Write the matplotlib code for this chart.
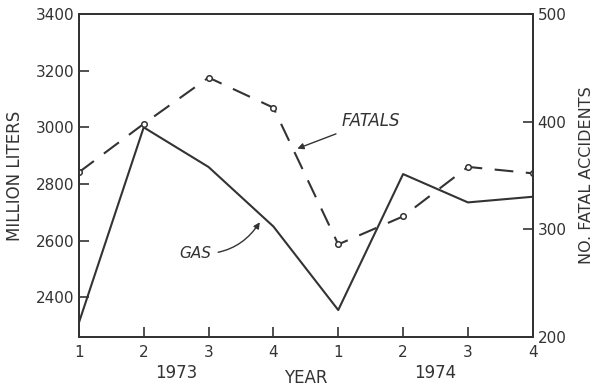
import matplotlib
matplotlib.use('Agg')
import matplotlib.pyplot as plt

# Quarterly gasoline sales and fatal accidents, 1973-1974
quarters = ['1', '2', '3', '4', '1', '2', '3', '4']
gas = [2310, 3000, 2860, 2650, 2355, 2835, 2735, 2755]
fatals = [353, 398, 441, 413, 286, 312, 358, 352]

plt.rcParams['font.family'] = 'DejaVu Sans'
ink = '#333333'

fig = plt.figure(figsize=(6.02, 3.9), dpi=100)
ax = fig.add_axes([0.131, 0.136, 0.754, 0.828])
x = list(range(len(quarters)))

ax.plot(x, gas, color=ink, linewidth=1.5)
ax.set_xlim(0, 7)
ax.set_ylim(2260, 3400)
ax.set_yticks([2400, 2600, 2800, 3000, 3200, 3400])
ax.set_xticks(x)
ax.set_xticklabels(quarters)
ax.set_ylabel('MILLION LITERS', fontsize=12, color=ink, labelpad=8)

ax2 = ax.twinx()
ax2.plot(x, fatals, color=ink, linewidth=1.5, dashes=(9, 6),
         marker='o', markersize=4, markerfacecolor='white',
         markeredgecolor=ink, markeredgewidth=1.1)
ax2.set_ylim(200, 500)
ax2.set_yticks([200, 300, 400, 500])
ax2.set_ylabel('NO. FATAL ACCIDENTS', fontsize=11.5, color=ink, labelpad=9)

for a in (ax, ax2):
    a.tick_params(direction='in', length=7, width=1.2, colors=ink,
                  labelsize=11)
    for s in a.spines.values():
        s.set_color(ink)
        s.set_linewidth(1.4)
ax.tick_params(axis='x', pad=6)

# year captions under the quarter ticks
ax.text(1.5, -0.111, '1973', transform=ax.get_xaxis_transform(),
        ha='center', va='center', fontsize=12, color=ink)
ax.text(5.5, -0.111, '1974', transform=ax.get_xaxis_transform(),
        ha='center', va='center', fontsize=12, color=ink)
ax.text(3.5, -0.128, 'YEAR', transform=ax.get_xaxis_transform(),
        ha='center', va='center', fontsize=12, color=ink)

# line labels with pointers
ax2.annotate('FATALS', xy=(3.37, 375), xytext=(4.05, 401),
             fontsize=12, style='italic', color=ink, va='center',
             arrowprops=dict(arrowstyle='-|>', color=ink, lw=1,
                             shrinkA=3, shrinkB=0, mutation_scale=9))
ax.annotate('GAS', xy=(2.79, 2665), xytext=(1.55, 2555),
            fontsize=11, style='italic', color=ink, va='center',
            arrowprops=dict(arrowstyle='-|>', color=ink, lw=1,
                            connectionstyle='arc3,rad=0.3',
                            shrinkA=3, shrinkB=0, mutation_scale=9))

plt.savefig('out.png', dpi=100)
